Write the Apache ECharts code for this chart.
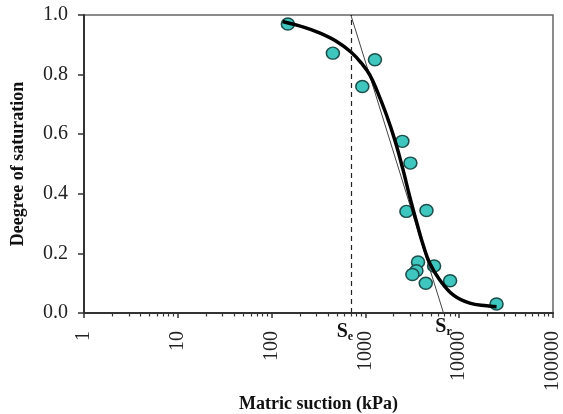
<!DOCTYPE html>
<html>
<head>
<meta charset="utf-8">
<script src="https://cdn.jsdelivr.net/npm/echarts@6/dist/echarts.min.js"></script>
<style>
    html, body {margin: 0; padding: 0; background: #fff;}
    #chart {width: 563px; height: 414px;}
</style>
</head>
<body>
<div id="chart"></div>
<script>
    // measured points (suction kPa / degree of saturation)
    var pointSuction = [149, 450, 1264, 927, 2478, 3018, 2738, 4478, 3640, 3500, 3170, 4400, 5400, 8000, 25000];
    var pointSat = [0.970, 0.872, 0.850, 0.760, 0.576, 0.503, 0.341, 0.344, 0.171, 0.142, 0.129, 0.100, 0.158, 0.108, 0.030];

    // fitted curve
    var curveSuction = [131, 215, 324, 489, 706, 904, 1109, 1361, 1671, 2051, 2518, 2965, 3499, 4121, 4853, 6209, 8610, 12970, 19590, 25000];
    var curveSat = [0.978, 0.960, 0.940, 0.912, 0.875, 0.839, 0.800, 0.738, 0.666, 0.582, 0.481, 0.391, 0.307, 0.229, 0.167, 0.111, 0.061, 0.033, 0.024, 0.021];

    // air entry (Se) and residual (Sr) suction
    var Se = 700;
    var Sr = 6800;

    var majorTicks = [1, 10, 100, 1000, 10000, 100000];
    var minorTicks = [];
    for (var d = 1; d < 100000; d *= 10) {
        for (var k = 2; k <= 9; k++) minorTicks.push(k * d);
    }

    var font = 'Liberation Serif';

    var chart = echarts.init(document.getElementById('chart'));

    var pts = pointSuction.map(function (x, i) { return [x, pointSat[i]]; });
    var curve = curveSuction.map(function (x, i) { return [x, curveSat[i]]; });

    var subRich = {
        s: {fontFamily: font, fontWeight: 'bold', fontSize: 20, color: '#111'},
        sub: {fontFamily: font, fontWeight: 'bold', fontSize: 12, color: '#111', padding: [10, 0, 0, 0]}
    };

    chart.setOption({
        animation: false,
        grid: {
            left: 84, right: 10, top: 15, bottom: 101,
            outerBoundsMode: 'none',
            containLabel: false,
            show: true, borderColor: '#666', borderWidth: 1.5
        },
        xAxis: [{
            type: 'log',
            logBase: 10,
            min: 1,
            max: 100000,
            name: 'Matric suction (kPa)',
            nameLocation: 'middle',
            nameGap: 82,
            nameMoveOverlap: false,
            nameTextStyle: {fontFamily: font, fontWeight: 'bold', fontSize: 18, color: '#111'},
            axisLine: {lineStyle: {color: '#333', width: 2}},
            axisTick: {length: 5, lineStyle: {color: '#333', width: 1.5}, customValues: majorTicks},
            axisLabel: {
                rotate: 90, margin: 18, customValues: majorTicks,
                fontFamily: font, fontSize: 20, color: '#222',
                formatter: function (v) { return String(Math.round(v)); }
            },
            splitLine: {show: false}
        }, {
            type: 'log',
            logBase: 10,
            min: 1,
            max: 100000,
            position: 'bottom',
            axisLine: {show: false},
            axisTick: {length: 3.5, lineStyle: {color: '#333', width: 1.2}, customValues: minorTicks},
            axisLabel: {show: false},
            splitLine: {show: false}
        }],
        yAxis: {
            type: 'value',
            min: 0,
            max: 1,
            interval: 0.2,
            name: 'Deegree of saturation',
            nameLocation: 'middle',
            nameGap: 57,
            nameMoveOverlap: false,
            nameTextStyle: {fontFamily: font, fontWeight: 'bold', fontSize: 18, color: '#111'},
            axisLine: {show: true, lineStyle: {color: '#333', width: 2}},
            axisTick: {show: true, length: 6, lineStyle: {color: '#333', width: 1.5}},
            axisLabel: {
                margin: 16, fontFamily: font, fontSize: 20, color: '#222',
                formatter: function (v) { return v.toFixed(1); }
            },
            splitLine: {show: false}
        },
        series: [{
            name: 'data',
            type: 'scatter',
            z: 2,
            symbol: 'circle',
            symbolSize: [13, 12],
            itemStyle: {color: '#3fc7bf', borderColor: '#1c4f4c', borderWidth: 1.5, opacity: 1},
            data: pts
        }, {
            name: 'fit',
            type: 'line',
            z: 4,
            smooth: 0.4,
            showSymbol: false,
            lineStyle: {color: '#000', width: 3.5},
            data: curve
        }, {
            name: 'tangent',
            type: 'line',
            z: 3,
            showSymbol: false,
            lineStyle: {color: '#444', width: 1},
            data: [[Se, 1.0], [Sr, 0]],
            markLine: {
                silent: true,
                symbol: 'none',
                label: {show: false},
                lineStyle: {color: '#222', type: [5, 4], width: 1.2},
                data: [{xAxis: Se}]
            },
            markPoint: {
                silent: true,
                symbol: 'circle',
                symbolSize: 0,
                data: [{
                    coord: [Se, 0],
                    label: {show: true, position: 'inside', offset: [-6, 19], formatter: '{s|S}{sub|e}', rich: subRich}
                }, {
                    coord: [Sr, 0],
                    label: {show: true, position: 'inside', offset: [0, 14], formatter: '{s|S}{sub|r}', rich: subRich}
                }]
            }
        }]
    });
</script>
</body>
</html>
